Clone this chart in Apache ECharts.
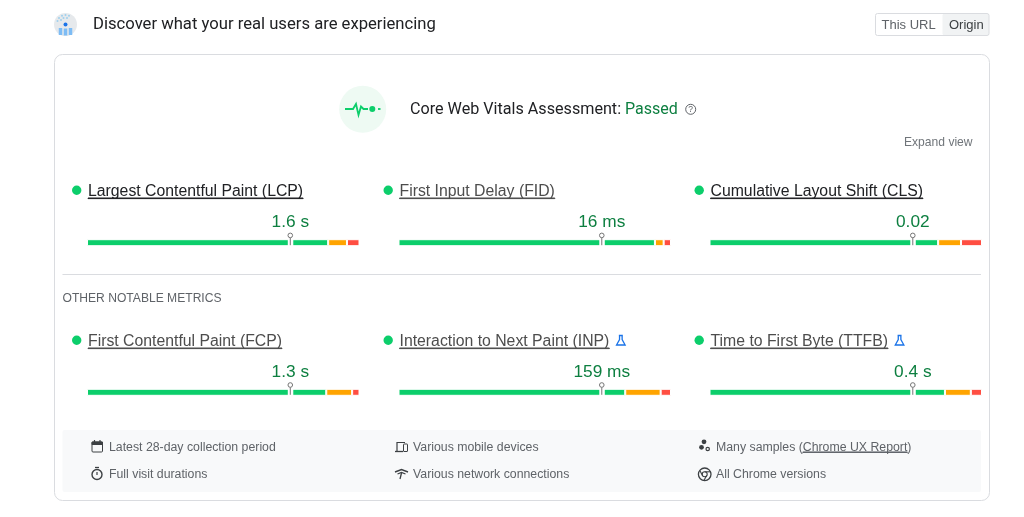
<!DOCTYPE html>
<html>
<head>
<meta charset="utf-8">
<title>Core Web Vitals</title>
<style>
    html, body { margin: 0; padding: 0; background: #fff; }
    #container { width: 1024px; height: 517px; }
</style>
<script src="https://cdn.jsdelivr.net/npm/echarts@6/dist/echarts.min.js"></script>
</head>
<body>
<div id="container"></div>
<script>
    // values
    var metricNames = ['Largest Contentful Paint (LCP)', 'First Input Delay (FID)', 'Cumulative Layout Shift (CLS)', 'First Contentful Paint (FCP)', 'Interaction to Next Paint (INP)', 'Time to First Byte (TTFB)'];
    var metricValues = ['1.6 s', '16 ms', '0.02', '1.3 s', '159 ms', '0.4 s'];
    var goodShare = [88.5, 94.1, 83.9, 87.8, 83.2, 86.4];
    var needsShare = [6.9, 3.2, 8.4, 9.5, 13.0, 9.5];
    var poorShare = [4.6, 2.7, 7.7, 2.7, 3.8, 4.1];
    var markerAt = [74.6, 74.6, 74.6, 74.6, 74.6, 74.6];
    var footerLeft = ['Latest 28-day collection period', 'Full visit durations'];
    var footerMiddle = ['Various mobile devices', 'Various network connections'];

    var GREEN = '#0cce6b', ORANGE = '#ffa400', RED = '#ff4e42', TEXT_GREEN = '#0d7f40';
    var SANS = '"Liberation Sans", Arial, sans-serif', ROBOTO = 'Roboto, sans-serif';

    var colX = [88, 399.5, 710.5];
    var rowY = [{title: 191, bar: 242.7}, {title: 341, bar: 392.3}];
    var titleColors = ['#202124', '#4d4d4d', '#202124', '#4d4d4d', '#4d4d4d', '#4d4d4d'];

    var measure = document.createElement('canvas').getContext('2d');
    function textWidth(str, size, family, weight) {
        measure.font = (weight || 'normal') + ' ' + size + 'px ' + family;
        return measure.measureText(str).width;
    }

    var g = [];
    function text(x, y, str, size, color, family, weight, align) {
        g.push({type: 'text', silent: true, z: 10, style: {
            x: x, y: y, text: str, fontSize: size, fontFamily: family || SANS, fontWeight: weight || 'normal',
            fill: color, verticalAlign: 'middle', align: align || 'left'
        }});
    }
    function rect(x, y, w, h, fill, stroke, r) {
        g.push({type: 'rect', silent: true, z: 1, shape: {x: x, y: y, width: w, height: h, r: r || 0},
            style: {fill: fill || 'none', stroke: stroke || 'none', lineWidth: 1}});
    }
    function circle(x, y, r, fill, stroke, lw) {
        g.push({type: 'circle', silent: true, z: 5, shape: {cx: x, cy: y, r: r},
            style: {fill: fill || 'none', stroke: stroke || 'none', lineWidth: lw || 1}});
    }
    function line(pts, color, lw) {
        g.push({type: 'polyline', silent: true, z: 5, shape: {points: pts},
            style: {fill: 'none', stroke: color, lineWidth: lw || 1}});
    }

    // page header
    circle(65.5, 24.5, 11.5, '#e6e9ec');
    [[57.5, 21], [59, 18], [62, 15.8], [65.5, 15], [69, 15.8], [61, 20], [63.5, 18], [67, 18]].forEach(function (p) {
        circle(p[0], p[1], 1, '#9fd0ee');
    });
    circle(65.5, 24.5, 2, '#1a73e8');
    line([[60.5, 28], [60.5, 35]], '#7dbcf5', 3.5);
    line([[65.5, 28.5], [65.5, 35.5]], '#7dbcf5', 3.5);
    line([[70.5, 28], [70.5, 35]], '#7dbcf5', 3.5);
    text(93, 25, 'Discover what your real users are experiencing', 16.65, '#202124', ROBOTO, 400);

    // URL / Origin toggle
    rect(942.5, 13.5, 46.5, 22, '#f1f3f4', null, 2);
    rect(875.5, 13.5, 113.5, 22, null, '#dadce0', 2);
    text(881.5, 25, 'This URL', 13, '#5f6368');
    text(949, 25, 'Origin', 13, '#3c4043');

    // panels
    rect(54.5, 54.5, 935, 446, '#fff', '#dadce0', 8);
    rect(62.5, 430, 918.5, 62, '#f8f9fa', null, 2);
    rect(62.5, 274, 918.5, 1, '#dadce0');

    // assessment line
    circle(362.7, 109.3, 23.5, '#eefaf3');
    line([[345, 109], [353, 109], [356, 104], [358.5, 115], [361, 106.5], [363.5, 109], [368, 109]], GREEN, 1.8);
    circle(372.3, 109, 3, GREEN);
    line([[378, 109], [380.5, 109]], GREEN, 1.8);
    text(410, 109.5, 'Core Web Vitals Assessment:', 16.15, '#202124', ROBOTO, 400);
    text(625, 109.5, 'Passed', 16, TEXT_GREEN, ROBOTO, 400);
    circle(690.7, 109.3, 5, null, '#5f6368', 1);
    text(690.7, 109.8, '?', 8.5, '#5f6368', SANS, 'normal', 'center');
    text(904, 143, 'Expand view', 12.1, '#70757a');
    text(62.5, 298.5, 'OTHER NOTABLE METRICS', 12.1, '#5f6368');

    function flask(x, y) {
        g.push({type: 'polyline', silent: true, z: 5, shape: {points: [
            [x - 2, y - 5], [x + 2, y - 5], [x + 1.3, y - 5], [x + 1.3, y - 1], [x + 4.3, y + 4.5],
            [x - 4.3, y + 4.5], [x - 1.3, y - 1], [x - 1.3, y - 5]
        ]}, style: {fill: 'none', stroke: '#1a73e8', lineWidth: 1.3}});
    }

    var grids = [], xAxes = [], yAxes = [], series = [];
    metricNames.forEach(function (name, i) {
        var col = i % 3, row = rowY[i < 3 ? 0 : 1], x = colX[col];
        // status dot, underlined title
        circle(x - 11.3, row.title - 0.7, 4.7, GREEN);
        text(x, row.title + 1, name, 15.8, titleColors[i]);
        var w = textWidth(name, 15.8, SANS);
        rect(x, row.title + 7, w, 0.6, titleColors[i], titleColors[i]);
        if (i === 4 || i === 5) {
            flask(x + w + 11.5, row.title - 0.5);
        }

        grids.push({left: x - 1, width: 272.5, top: row.bar - 10, height: 20});
        xAxes.push({gridIndex: i, type: 'value', min: 0, max: 100, show: false});
        yAxes.push({gridIndex: i, type: 'category', data: [name], show: false});

        [[goodShare, GREEN], [needsShare, ORANGE], [poorShare, RED]].forEach(function (s) {
            series.push({
                type: 'bar', stack: 'm' + i, xAxisIndex: i, yAxisIndex: i, barWidth: 7, silent: true,
                itemStyle: {color: s[1], borderColor: '#fff', borderWidth: 1},
                data: [s[0][i]]
            });
        });
        // 75th percentile pin with the value above it
        series.push({
            type: 'custom', xAxisIndex: i, yAxisIndex: i, z: 5, silent: true,
            data: [[markerAt[i], 0]],
            encode: {x: 0, y: 1},
            renderItem: function (params, api) {
                var p = api.coord([api.value(0), api.value(1)]);
                return {type: 'group', children: [
                    {type: 'rect', shape: {x: p[0] - 2.5, y: p[1] - 4, width: 5.5, height: 8}, style: {fill: '#fff'}},
                    {type: 'line', shape: {x1: p[0], y1: p[1] - 5, x2: p[0], y2: p[1] + 2.5}, style: {stroke: '#757575', lineWidth: 1}},
                    {type: 'circle', shape: {cx: p[0], cy: p[1] - 7.3, r: 2.3}, style: {fill: '#fff', stroke: '#757575', lineWidth: 1}},
                    {type: 'text', style: {x: p[0], y: p[1] - 20.5, text: metricValues[i], fontSize: 17.3, fontFamily: SANS,
                        fill: TEXT_GREEN, align: 'center', verticalAlign: 'middle'}}
                ]};
            }
        });
    });

    // footer
    var FOOT = '#5f6368', ICON = '#3c4043', FOOT_SIZE = 12.3;
    footerLeft.forEach(function (t, i) { text(109, 447.5 + i * 27.5, t, FOOT_SIZE, FOOT); });
    footerMiddle.forEach(function (t, i) { text(413, 447.5 + i * 27.5, t, FOOT_SIZE, FOOT); });
    var sampleHead = 'Many samples (', sampleLink = 'Chrome UX Report';
    var headW = textWidth(sampleHead, FOOT_SIZE, SANS), linkW = textWidth(sampleLink, FOOT_SIZE, SANS);
    text(716, 447.5, sampleHead, FOOT_SIZE, FOOT);
    text(716 + headW, 447.5, sampleLink, FOOT_SIZE, FOOT);
    rect(716 + headW, 452, linkW, 0.4, FOOT, FOOT);
    text(716 + headW + linkW, 447.5, ')', FOOT_SIZE, FOOT);
    text(716, 475, 'All Chrome versions', FOOT_SIZE, FOOT);

    // calendar
    rect(92, 442, 10.5, 10, null, ICON, 1);
    rect(92, 442, 10.5, 2.5, ICON, ICON);
    line([[94.5, 440], [94.5, 442]], ICON, 1.2);
    line([[100, 440], [100, 442]], ICON, 1.2);
    // stopwatch
    circle(97, 474.5, 5, null, ICON, 1.4);
    line([[95, 467.5], [99, 467.5]], ICON, 1.3);
    line([[97, 472], [97, 475]], ICON, 1.2);
    // devices
    line([[397, 451], [397, 442.5], [405, 442.5]], ICON, 1.2);
    line([[395, 451.5], [403, 451.5]], ICON, 1.3);
    rect(403.5, 444, 4, 7.5, null, ICON, 0.5);
    // network
    line([[395, 472], [401.5, 469.5], [408, 472]], ICON, 1.4);
    line([[397.5, 474], [401.5, 472.5], [405.5, 474]], ICON, 1.3);
    line([[401.5, 473], [400, 479]], ICON, 1.3);
    // samples
    circle(704, 441.8, 2.4, ICON);
    circle(701.5, 447.3, 2.4, ICON);
    circle(707.7, 449, 1.7, null, ICON, 1.2);
    // chrome
    circle(704.7, 474.3, 6.3, null, ICON, 1.3);
    circle(704.7, 474.3, 2.5, null, ICON, 1.1);
    line([[704.7, 471.8], [710.5, 471.8]], ICON, 1.1);
    line([[702.5, 475.5], [699.8, 470.5]], ICON, 1.1);
    line([[706.8, 475.5], [703.8, 480.5]], ICON, 1.1);

    var myChart = echarts.init(document.getElementById('container'));
    myChart.setOption({
        animation: false,
        backgroundColor: '#fff',
        grid: grids,
        xAxis: xAxes,
        yAxis: yAxes,
        series: series,
        graphic: {elements: g}
    });
</script>
</body>
</html>
